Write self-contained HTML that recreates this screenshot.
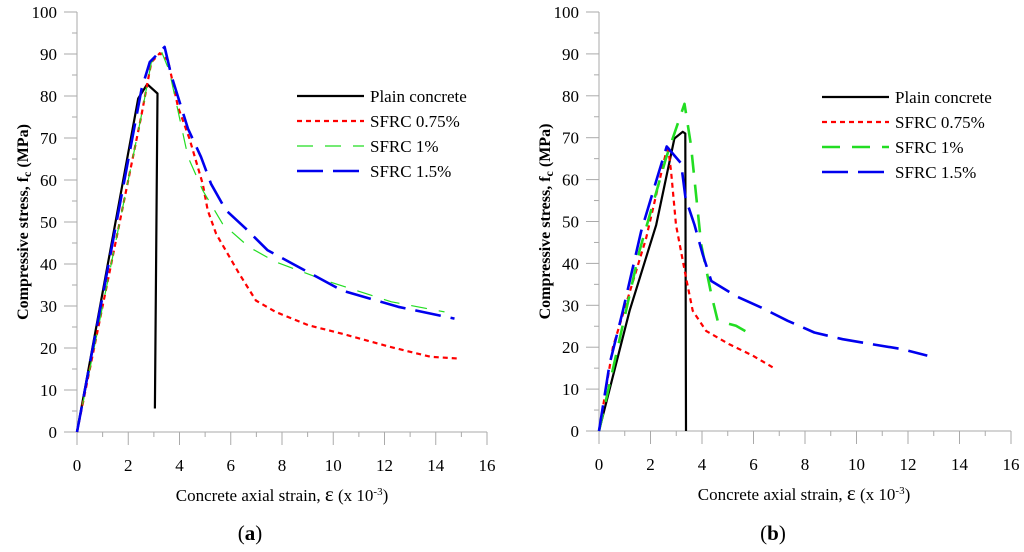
<!DOCTYPE html>
<html><head><meta charset="utf-8"><style>
html,body{margin:0;padding:0;background:#fff;width:1024px;height:552px;overflow:hidden}
svg{display:block;font-family:"Liberation Serif",serif}
</style></head><body>
<svg id="fig" width="1024" height="552"></svg>
<script>
const xTicks=[0,2,4,6,8,10,12,14,16];
const yTicks=[0,10,20,30,40,50,60,70,80,90,100];
const seriesNames=["Plain concrete","SFRC 0.75%","SFRC 1%","SFRC 1.5%"];
// panel (a)
const aPlainX=[0,2.39,2.74,3.14,3.04];
const aPlainY=[0,79.4,82.8,80.6,5.6];
const a075X=[0,2.5,2.9,3.23,3.55,3.94,4.39,4.91,5.1,5.43,6.33,6.98,7.75,9.04,10.34,12.27,13.8,14.86];
const a075Y=[0,75,88,90.2,88.5,77.4,69.8,59,52.8,47.2,37.7,31.3,28.6,25.4,23.4,20.2,17.9,17.5];
const a1X=[0,2.5,2.9,3.3,3.6,4.33,4.91,5.68,6.72,7.75,9.69,12.27,14.34];
const a1Y=[0,75,88,90.5,86,65.5,57.5,49.6,44,40.5,36.1,31,28.6];
const a15X=[0,2.52,2.84,3.42,3.68,4.33,4.84,5.23,5.81,6.59,7.43,8.4,10.34,12.53,14.73];
const a15Y=[0,81.7,88.1,91.7,84.9,72.2,65.5,59.1,52.8,48.4,43.3,40.1,33.7,29.8,27];
// panel (b)
const bPlainX=[0,1.19,2.22,2.93,3.25,3.35,3.38];
const bPlainY=[0,28.7,49.2,69.8,71.4,71,0];
const b075X=[0,0.54,1.83,2.67,2.8,2.99,3.38,3.64,4.16,5.06,5.97,6.74];
const b075Y=[0,20,46,68.3,61.9,49.2,36.6,28.7,23.9,20.7,18,15.2];
const b1X=[0,1.57,2.6,3.32,3.57,3.97,4.36,4.61,5.32,5.78];
const b1Y=[0,42.9,65.1,78.1,68.3,44.5,32.6,26.3,25.1,23.5];
const b15X=[0,0.41,0.93,1.64,2.29,2.63,3.19,3.36,3.71,4.03,4.36,5.32,6.29,7.33,8.36,9.46,10.62,11.72,12.75];
const b15Y=[0,16,28.7,47.7,61.1,67.9,63.9,55.6,49.2,42.1,35.8,32.2,29.5,26.3,23.5,21.9,20.7,19.6,18];

const NS="http://www.w3.org/2000/svg";
const svg=document.getElementById('fig');
function mk(tag,attrs,parent){const e=document.createElementNS(NS,tag);for(const k in attrs)e.setAttribute(k,attrs[k]);(parent||svg).appendChild(e);return e;}
const styles=[
 {stroke:"#000",w:2.2,dash:""},
 {stroke:"#ff0000",w:2.2,dash:"5 4"},
 {stroke:"#22dd22",w:1.2,dash:"16 12"},
 {stroke:"#0000ee",w:2.6,dash:"26 10"}
];
function panel(id,x0,y0,w,h,data,legX,legY,label,labX,labCx,stylesOv){
  const g=mk('g',{});
  
  
  const sx=v=>x0+v/16*w, sy=v=>y0-v/100*h;
  const ax=mk('path',{d:`M${x0} ${y0-h}V${y0}H${x0+w}`,stroke:"#aaa",fill:"none","stroke-width":1},g);
  
  for(let i=0;i<=16;i++){mk('line',{x1:sx(i),x2:sx(i),y1:y0,y2:y0+(i%2?5:13),stroke:"#aaa"},g);}
  for(let i=0;i<=20;i++){mk('line',{x1:x0,x2:x0-(i%2?5:13),y1:sy(i*5),y2:sy(i*5),stroke:"#aaa"},g);}
  xTicks.forEach(t=>{const e=mk('text',{x:sx(t),y:y0+39,"text-anchor":"middle","font-size":17},g);e.textContent=t;
    });
  yTicks.forEach(t=>{const e=mk('text',{x:x0-20,y:sy(t)+6,"text-anchor":"end","font-size":17},g);e.textContent=t;
    });
  const yt=mk('text',{transform:`translate(${x0-49},${y0-h/2}) rotate(-90)`,"text-anchor":"middle","font-size":16,"font-weight":"bold"},g);
  yt.innerHTML='Compressive stress, f<tspan font-size="12" dy="3">c</tspan><tspan dy="-3"> (MPa)</tspan>';
  
  const xt=mk('text',{x:labCx,y:y0+69,"text-anchor":"middle","font-size":17},g);
  xt.innerHTML='Concrete axial strain, <tspan font-size="21">ε</tspan> (x 10<tspan font-size="11" dy="-6">-3</tspan><tspan dy="6">)</tspan>';
  
  data.forEach((s,i)=>{const st=stylesOv[i];
    const d=s[0].map((v,j)=>(j?'L':'M')+sx(v).toFixed(1)+' '+sy(s[1][j]).toFixed(1)).join('');
    const p=mk('path',{d:d,fill:"none",stroke:st.stroke,"stroke-width":st.w,"stroke-dasharray":st.dash,"stroke-linejoin":"round"},g);
    
    const ly=legY+i*25;
    const l=mk('line',{x1:legX,x2:legX+67,y1:ly,y2:ly,stroke:st.stroke,"stroke-width":st.w,"stroke-dasharray":st.dash},g);
    
    const t=mk('text',{x:legX+73,y:ly+6,"font-size":17},g);t.textContent=seriesNames[i];
    
  });
  const lab=mk('text',{x:labX,y:540,"text-anchor":"middle","font-size":21},g);
  lab.innerHTML='(<tspan font-weight="bold">'+label+'</tspan>)';
  
}
panel('a',77,432,410,420,[[aPlainX,aPlainY],[a075X,a075Y],[a1X,a1Y],[a15X,a15Y]],297,96,'a',250,282,styles);
const stylesB=styles.map((s,i)=>i==2?{stroke:"#22dd22",w:2.6,dash:"18 12"}:s);
panel('b',599,431,412,419,[[bPlainX,bPlainY],[b075X,b075Y],[b1X,b1Y],[b15X,b15Y]],822,97,'b',773,804,stylesB);
</script>
</body></html>
